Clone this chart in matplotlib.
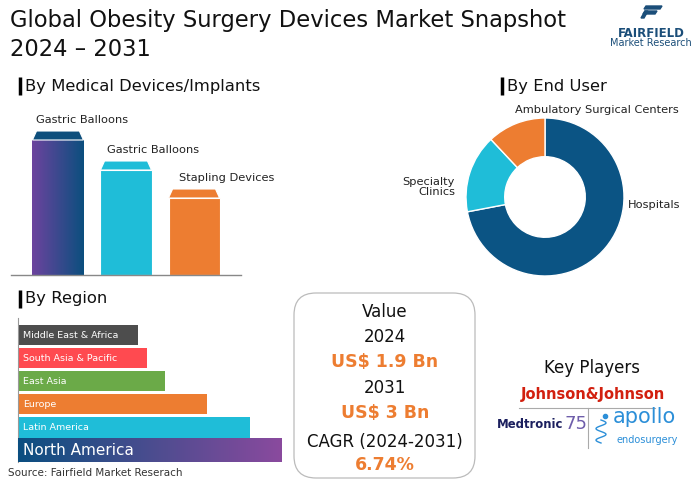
import numpy as np
import matplotlib
matplotlib.use("Agg")
import matplotlib.pyplot as plt
from matplotlib.patches import Polygon, FancyBboxPatch
from matplotlib.colors import LinearSegmentedColormap

plt.rcParams['font.family'] = ['DejaVu Sans']

W, H = 700, 491

# ---- data ----
device_labels = ['Gastric Balloons', 'Gastric Balloons', 'Stapling Devices']
device_values = [144, 114, 86]
device_colors = ['#0E4F7C', '#1FBDD8', '#ED7D31']

end_users = ['Hospitals', 'Specialty Clinics', 'Ambulatory Surgical Centers']
end_user_share = [72, 16, 12]
end_user_colors = ['#0B5484', '#1FBDD8', '#ED7D31']

regions = ['North America', 'Latin America', 'Europe', 'East Asia',
           'South Asia & Pacific', 'Middle East & Africa']
region_values = [264, 232, 189, 147, 129, 120]
region_colors = ['#0B4F80', '#1FBDD8', '#ED7D31', '#6BAA48', '#FF4A50', '#4D4D4D']

value_2024 = 'US$ 1.9 Bn'
value_2031 = 'US$ 3 Bn'
cagr = '6.74%'

ORANGE = '#ED7D31'


def px_axes(fig, x0, y0, x1, y1):
    # axes from pixel box (top-left origin)
    return fig.add_axes([x0 / W, 1 - y1 / H, (x1 - x0) / W, (y1 - y0) / H])


def gradient_fill(ax, patch, c0, c1, zorder=3):
    x0, y0 = patch.get_x(), patch.get_y()
    w, h = patch.get_width(), patch.get_height()
    cmap = LinearSegmentedColormap.from_list('g', [c0, c1])
    grad = np.linspace(0, 1, 256).reshape(1, -1)
    im = ax.imshow(grad, extent=[x0, x0 + w, y0, y0 + h], cmap=cmap,
                   aspect='auto', zorder=zorder, interpolation='bicubic')
    im.set_clip_path(patch)


fig = plt.figure(figsize=(7, 4.91), dpi=100)

# overlay for free text / boxes, pixel coordinates
ax0 = fig.add_axes([0, 0, 1, 1])
ax0.set_xlim(0, W)
ax0.set_ylim(H, 0)
ax0.axis('off')

# title
ax0.text(10, 20, 'Global Obesity Surgery Devices Market Snapshot', fontsize=16.3,
         color='#111111', va='center', ha='left')
ax0.text(10, 49, '2024 \u2013 2031', fontsize=16.3, color='#111111', va='center', ha='left')

# logo
ax0.add_patch(Polygon([[646, 6], [662, 6], [660, 9], [644, 9]], closed=True, color='#1B4E79'))
ax0.add_patch(Polygon([[645, 11], [657, 11], [655, 14], [643, 14]], closed=True, color='#1B4E79'))
ax0.add_patch(Polygon([[645, 11], [648, 11], [644, 18], [641, 18]], closed=True, color='#1B4E79'))
ax0.text(651, 33, 'FAIRFIELD', fontsize=8.5, fontweight='bold', color='#1B4E79',
         ha='center', va='center')
ax0.text(651, 43, 'Market Research', fontsize=7, color='#1B4E79', ha='center', va='center')

# section headers
def header(x, y, s):
    ax0.plot([x, x], [y - 9, y + 9], color='black', lw=2.5, solid_capstyle='butt')
    ax0.text(x + 5, y, s, fontsize=11.8, color='#111111', ha='left', va='center')

header(20, 86, 'By Medical Devices/Implants')
header(502, 86, 'By End User')
header(20, 299, 'By Region')

# ---- bar chart: medical devices ----
ax1 = px_axes(fig, 11, 100, 241, 275)
ax1.axis('off')
pos = np.arange(len(device_values))
cap_h = 9
bw = 0.75
body = np.array(device_values) - cap_h
bars = ax1.bar(pos, body, width=bw, color=device_colors, edgecolor='white', lw=0.8, zorder=2)
gradient_fill(ax1, bars[0], '#6C439E', '#0B4F7E')
inset = 0.06
for i, v in enumerate(device_values):
    xl, xr = pos[i] - bw / 2, pos[i] + bw / 2
    ax1.add_patch(Polygon([[xl, v - cap_h], [xr, v - cap_h], [xr - inset, v], [xl + inset, v]],
                          closed=True, facecolor=device_colors[i], edgecolor='white',
                          lw=0.8, zorder=4))
    ax1.text(xl + 0.05 + 0.05 * i, v + 11, device_labels[i], fontsize=8.2, color='#222222',
             ha='left', va='center', clip_on=False)
ax1.axhline(0, color='#888888', lw=1, zorder=5, clip_on=False)
ax1.set_xlim(-0.69, 2.69)
ax1.set_ylim(0, 175)

# ---- donut: end user ----
ax2 = px_axes(fig, 460, 112, 630, 282)
wedges, _ = ax2.pie(end_user_share, colors=end_user_colors, startangle=90, counterclock=False,
                    wedgeprops=dict(width=0.49, edgecolor='white', linewidth=1))
ax2.set_xlim(-1.076, 1.076)
ax2.set_ylim(-1.076, 1.076)
ax2.set_aspect('equal')
ax0.text(628, 205, end_users[0], fontsize=8.2, color='#222222', ha='left', va='center')
ax0.text(455, 187, 'Specialty\nClinics', fontsize=8.2, color='#222222', ha='right',
         va='center', linespacing=1.0)
ax0.text(515, 110, end_users[2], fontsize=8.2, color='#222222', ha='left', va='center')

# ---- horizontal bars: region ----
ax3 = px_axes(fig, 18, 318, 290, 462)
rpos = np.arange(len(regions))
heights = [1.04] + [0.91] * (len(regions) - 1)
rbars = ax3.barh(rpos, region_values, height=heights, color=region_colors, zorder=2)
gradient_fill(ax3, rbars[0], '#0B4F80', '#8A4A9E')
for i, name in enumerate(regions):
    ax3.text(5, rpos[i] - 0.02, name, fontsize=11 if i == 0 else 6.8, color='white',
             ha='left', va='center', zorder=5)
ax3.set_xlim(0, 272)
ax3.set_ylim(-0.52, 5.74)
for s in ['top', 'right', 'bottom']:
    ax3.spines[s].set_visible(False)
ax3.spines['left'].set_color('#999999')
ax3.spines['left'].set_linewidth(0.8)
ax3.set_xticks([])
ax3.set_yticks([])
ax3.patch.set_alpha(0)

ax0.text(8, 473, 'Source: Fairfield Market Reserach', fontsize=7.5, color='#333333',
         ha='left', va='center')

# ---- value box ----
ax0.add_patch(FancyBboxPatch((294, 293), 181, 185, boxstyle='round,pad=0,rounding_size=22',
                             facecolor='white', edgecolor='#BBBBBB', lw=0.9))
cx = 385
ax0.text(cx, 312, 'Value', fontsize=12, color='#111111', ha='center', va='center')
ax0.text(cx, 337, '2024', fontsize=12, color='#111111', ha='center', va='center')
ax0.text(cx, 362, value_2024, fontsize=12.5, fontweight='bold', color=ORANGE,
         ha='center', va='center')
ax0.text(cx, 388, '2031', fontsize=12, color='#111111', ha='center', va='center')
ax0.text(cx, 413, value_2031, fontsize=12.5, fontweight='bold', color=ORANGE,
         ha='center', va='center')
ax0.text(cx, 442, 'CAGR (2024-2031)', fontsize=12, color='#111111', ha='center', va='center')
ax0.text(cx, 465, cagr, fontsize=12.5, fontweight='bold', color=ORANGE,
         ha='center', va='center')

# ---- key players ----
ax0.text(592, 368, 'Key Players', fontsize=12, color='#111111', ha='center', va='center')
ax0.text(593, 394, 'Johnson&Johnson', fontsize=10.5, fontweight='bold', color='#D2200F',
         ha='center', va='center')
ax0.plot([519, 655], [408, 408], color='#AAAAAA', lw=0.8)
ax0.plot([588, 588], [408, 448], color='#AAAAAA', lw=0.8)
ax0.text(497, 425, 'Medtronic', fontsize=8.4, fontweight='bold', color='#1B1F5E',
         ha='left', va='center')
ax0.text(565, 424, '75', fontsize=13, color='#6E5DAA', ha='left', va='center')
ax0.text(644, 417, 'apollo', fontsize=15, color='#2C8FD8', ha='center', va='center')
ax0.text(647, 440, 'endosurgery', fontsize=7, color='#2C8FD8', ha='center', va='center')
t = np.linspace(0, 1, 60)
ax0.plot(601 + 5 * np.sin(t * 4 * np.pi), 420 + 23 * t, color='#2C8FD8', lw=1)
ax0.plot([605], [416], 'o', color='#2C8FD8', ms=3)

fig.savefig('out.png', dpi=100)
